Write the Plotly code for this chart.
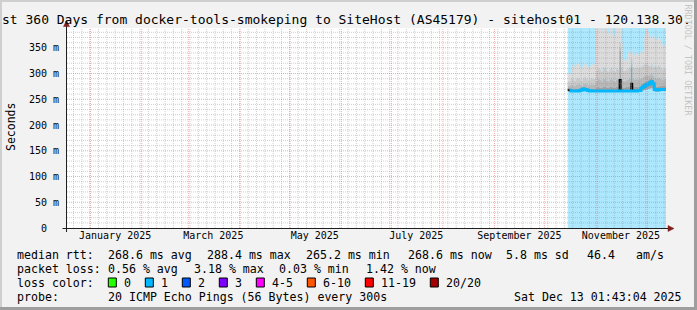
import plotly.graph_objects as go
from datetime import datetime, timedelta

# ---------------- data ----------------
first_day = "2025-10-15"
median_ms = [268, 267, 266, 266, 266, 266, 266, 267, 268, 270, 269, 268, 267, 266, 266, 266, 266,
             266, 266, 266, 266, 266, 266, 266, 266, 266, 266, 266, 266, 266, 266,
             288, 267, 266, 266, 266, 266, 266,
             281, 267, 266, 266, 267, 267, 272, 274, 276,
             278, 279, 282, 284, 280, 269, 268, 268, 269, 269, 269, 269]
loss_line_ms = [None, 267, 266, 266, 266, 266, 266, 267, 268, 270, 269, 268, 267, 266, 266, 266, 266,
                266, 266, 266, 266, 266, 266, 266, 266, 266, 266, 266, 266, 266, 266,
                266, 266, 266, 266, 266, 266, 266,
                266, 266, 266, 266, 267, 267, 272, 274, 276,
                278, 279, 282, 284, 280, 269, 268, 268, 269, 269, 269, 269]
min_ms = [265, 265, 264, 264, 264, 264, 264, 265, 265, 266, 266, 265, 265, 264, 264, 264, 264,
          264, 264, 265, 264, 264, 264, 265, 264, 264, 264, 265, 264, 264, 264,
          266, 265, 264, 264, 264, 264, 264,
          268, 265, 264, 264, 265, 265, 266, 267, 268,
          269, 270, 271, 272, 270, 266, 265, 265, 266, 266, 266, 266]
p60_ms = [272, 272, 271, 271, 271, 271, 271, 272, 273, 275, 274, 273, 272, 271, 271, 271, 271,
          273, 274, 273, 273, 274, 274, 273, 273, 274, 274, 273, 273, 274, 274,
          344, 276, 273, 273, 274, 274, 274,
          312, 276, 274, 274, 275, 275, 280, 282, 284,
          286, 287, 290, 292, 288, 276, 275, 275, 276, 276, 276, 276]
p75_ms = [276, 276, 278, 277, 276, 278, 280, 278, 276, 279, 281, 279, 277, 277, 279, 278, 279,
          286, 290, 288, 285, 290, 289, 287, 285, 288, 291, 287, 285, 289, 288,
          350, 290, 286, 285, 287, 289, 290,
          318, 290, 288, 290, 288, 290, 291, 293, 295,
          297, 296, 298, 300, 296, 292, 290, 292, 291, 289, 288, 290]
p90_ms = [285, 285, 290, 288, 286, 290, 292, 288, 286, 290, 294, 290, 287, 288, 291, 289, 290,
          305, 310, 308, 304, 312, 310, 306, 304, 308, 312, 306, 304, 310, 308,
          360, 312, 306, 305, 308, 310, 312,
          328, 312, 310, 314, 310, 312, 314, 316, 318,
          320, 316, 314, 318, 312, 315, 312, 316, 314, 310, 308, 310]
max_ms = [300, 300, 318, 315, 312, 318, 320, 314, 310, 316, 322, 318, 312, 315, 320, 316, 318,
          395, 395, 395, 382, 395, 395, 395, 378, 395, 395, 376, 372, 395, 395,
          395, 360, 326, 325, 328, 340, 342,
          345, 338, 335, 340, 336, 342, 338, 345, 372,
          395, 380, 370, 375, 368, 372, 365, 372, 366, 358, 352, 356]

month_labels = ["January 2025", "March 2025", "May 2025", "July 2025",
                "September 2025", "November 2025"]
month_label_dates = ["2025-01-16", "2025-03-16", "2025-05-16", "2025-07-16",
                     "2025-09-16", "2025-11-16"]
y_tick_values = [0, 50, 100, 150, 200, 250, 300, 350]
y_tick_text = ["0\u00a0\u00a0", "50 m", "100 m", "150 m", "200 m", "250 m", "300 m", "350 m"]

title_text = "st 360 Days from docker-tools-smokeping to SiteHost (AS45179) - sitehost01 - 120.138.30."
median_stats = ["268.6 ms avg", "288.4 ms max", "265.2 ms min", "268.6 ms now", "5.8 ms sd", "46.4", "am/s"]
loss_stats = ["0.56 % avg", "3.18 % max", "0.03 % min", "1.42 % now"]
loss_labels = ["0", "1", "2", "3", "4-5", "6-10", "11-19", "20/20"]
loss_colors = ["#26ff00", "#00b8ff", "#0059ff", "#7e00ff", "#ff00ff", "#ff5500", "#ff0000", "#a10000"]
probe_text = "20 ICMP Echo Pings (56 Bytes) every 300s"
stamp_text = "Sat Dec 13 01:43:04 2025"

# ---------------- layout geometry ----------------
W, H = 697, 310
PL, PT, PW, PH = 67, 28, 599, 200
end_time = datetime(2025, 12, 13, 1, 43, 4)
start_time = end_time - timedelta(days=360)
Y_TOP = 388.4
MONO = "DejaVu Sans Mono"


def px(x):
    return (x - PL) / PW


def py(y):
    return (PT + PH - y) / PH


d0 = datetime.fromisoformat(first_day)
days = [d0 + timedelta(days=i) for i in range(len(median_ms))] + [end_time]


def ext(a):
    return list(a) + [a[-1]]


fig = go.Figure()

# smoke (stacked bands)
fig.add_trace(go.Scatter(x=days, y=ext(min_ms), mode="lines", line=dict(width=0, shape="hv"),
                         hoverinfo="skip", showlegend=False))
bands = [(p60_ms, "#a2a2a2"), (p75_ms, "#b8b8b8"), (p90_ms, "#cbcbcb"), (max_ms, "#dcdcdc")]
for arr, col in bands:
    fig.add_trace(go.Scatter(x=days, y=ext(arr), mode="lines", fill="tonexty", fillcolor=col,
                             line=dict(width=0, shape="hv"), hoverinfo="skip", showlegend=False))

# median (black) and loss-coloured median band
fig.add_trace(go.Scatter(x=days, y=ext(median_ms), mode="lines",
                         line=dict(color="#000000", width=1.3, shape="hv"), showlegend=False))
fig.add_trace(go.Scatter(x=days, y=ext(loss_line_ms), mode="lines",
                         line=dict(color="#00b8ff", width=3, shape="hv"), showlegend=False))

shapes = []
# loss background (loss class 1) behind data
shapes.append(dict(type="rect", xref="x", yref="paper", x0=days[0], x1=days[-1], y0=0, y1=1,
                   fillcolor="rgba(0,184,255,0.32)", line=dict(width=0), layer="below"))

# grid on top of data
GRID = "rgba(143,143,143,0.42)"
MGRID = "rgba(222,79,79,0.45)"
DASH = "1px,1px"
jan1 = datetime(2025, 1, 1)
t = jan1
while t > start_time:
    t -= timedelta(days=5)
t += timedelta(days=5)
while t < end_time:
    shapes.append(dict(type="line", xref="x", yref="paper", x0=t, x1=t, y0=0, y1=1,
                       line=dict(color=GRID, width=1, dash=DASH), layer="above"))
    t += timedelta(days=5)
for v in range(10, 390, 10):
    if v % 50:
        shapes.append(dict(type="line", xref="paper", yref="y", x0=0, x1=1, y0=v, y1=v,
                           line=dict(color=GRID, width=1, dash=DASH), layer="above"))
for m in range(1, 13):
    t = datetime(2025, m, 1)
    shapes.append(dict(type="line", xref="x", yref="paper", x0=t, x1=t, y0=0, y1=1,
                       line=dict(color=MGRID, width=1, dash=DASH), layer="above"))
for v in y_tick_values[1:]:
    shapes.append(dict(type="line", xref="paper", yref="y", x0=0, x1=1, y0=v, y1=v,
                       line=dict(color=MGRID, width=1, dash=DASH), layer="above"))

# axes with arrows
AX = "#1f1f1f"
ARROW = "#801f1f"
shapes.append(dict(type="line", xref="paper", yref="paper", x0=px(66.5), x1=px(66.5),
                   y0=py(232), y1=py(24), line=dict(color=AX, width=1), layer="above"))
shapes.append(dict(type="line", xref="paper", yref="paper", x0=px(62.5), x1=px(670),
                   y0=py(228.5), y1=py(228.5), line=dict(color=AX, width=1), layer="above"))
shapes.append(dict(type="path", xref="paper", yref="paper", layer="above",
                   path=f"M {px(63.5)} {py(26.5)} L {px(66.5)} {py(20.5)} L {px(69.5)} {py(26.5)} Z",
                   fillcolor=ARROW, line=dict(color=ARROW, width=0.5)))
shapes.append(dict(type="path", xref="paper", yref="paper", layer="above",
                   path=f"M {px(668)} {py(225.5)} L {px(674)} {py(228.5)} L {px(668)} {py(231.5)} Z",
                   fillcolor=ARROW, line=dict(color=ARROW, width=0.5)))

# 3D frame
shapes.append(dict(type="rect", xref="paper", yref="paper", x0=px(0), x1=px(W), y0=py(0), y1=py(2),
                   fillcolor="#cfcfcf", line=dict(width=0), layer="above"))
shapes.append(dict(type="rect", xref="paper", yref="paper", x0=px(0), x1=px(2), y0=py(0), y1=py(H),
                   fillcolor="#cfcfcf", line=dict(width=0), layer="above"))
shapes.append(dict(type="rect", xref="paper", yref="paper", x0=px(W - 3), x1=px(W), y0=py(0), y1=py(H),
                   fillcolor="#9e9e9e", line=dict(width=0), layer="above"))
shapes.append(dict(type="rect", xref="paper", yref="paper", x0=px(0), x1=px(W), y0=py(H - 3), y1=py(H),
                   fillcolor="#9e9e9e", line=dict(width=0), layer="above"))

annotations = []


def text(x, y, s, size=11.6, color="#000000", anchor="left", angle=0):
    annotations.append(dict(x=px(x), y=py(y), xref="paper", yref="paper", text=s, showarrow=False,
                            xanchor=anchor, yanchor="middle", textangle=angle,
                            font=dict(family=MONO, size=size, color=color), borderpad=0))


text(0.5, 19, title_text, size=13)
text(687.5, 60, "RRDTOOL / TOBI OETIKER", size=8.4, color="#c4c4c4", anchor="center", angle=90)
text(11, 127, "Seconds", size=11.5, anchor="center", angle=-90)

# legend rows
ROW = [254.5, 268.5, 282.5, 296.5]
text(15.5, ROW[0], "median rtt:")
for xx, s in zip([107, 206, 305, 407, 505, 586, 635], median_stats):
    text(xx - 0.5, ROW[0], s)
text(15.5, ROW[1], "packet loss:")
for xx, s in zip([107, 193, 278.5, 365], loss_stats):
    text(xx - 0.5, ROW[1], s)
text(15.5, ROW[2], "loss color:")
box_x = [108.3, 145.3, 182.3, 219.3, 256.3, 307.3, 365.3, 430.3]
for bx, lab, col in zip(box_x, loss_labels, loss_colors):
    shapes.append(dict(type="rect", xref="paper", yref="paper", x0=px(bx), x1=px(bx + 8),
                       y0=py(ROW[2] + 4.5), y1=py(ROW[2] - 4.5), fillcolor=col,
                       line=dict(color="#000000", width=1), layer="above"))
    text(bx + 14.5, ROW[2], lab)
text(15.5, ROW[3], "probe:")
text(106.5, ROW[3], probe_text)
text(512.5, ROW[3], stamp_text)

fig.update_layout(
    width=W, height=H,
    margin=dict(l=PL, r=W - PL - PW, t=PT, b=H - PT - PH, pad=0),
    paper_bgcolor="#f2f2f2", plot_bgcolor="#ffffff",
    showlegend=False,
    shapes=shapes, annotations=annotations,
    xaxis=dict(type="date", range=[start_time, end_time], showgrid=False, zeroline=False,
               showline=False, tickmode="array", tickvals=month_label_dates, ticktext=month_labels,
               ticks="", tickfont=dict(family=MONO, size=10, color="#000000")),
    yaxis=dict(range=[0, Y_TOP], showgrid=False, zeroline=False, showline=False,
               tickmode="array", tickvals=y_tick_values, ticktext=y_tick_text,
               ticks="outside", ticklen=5, tickcolor="rgba(0,0,0,0)",
               tickfont=dict(family=MONO, size=10, color="#000000")),
)

fig.write_html("out.html")
